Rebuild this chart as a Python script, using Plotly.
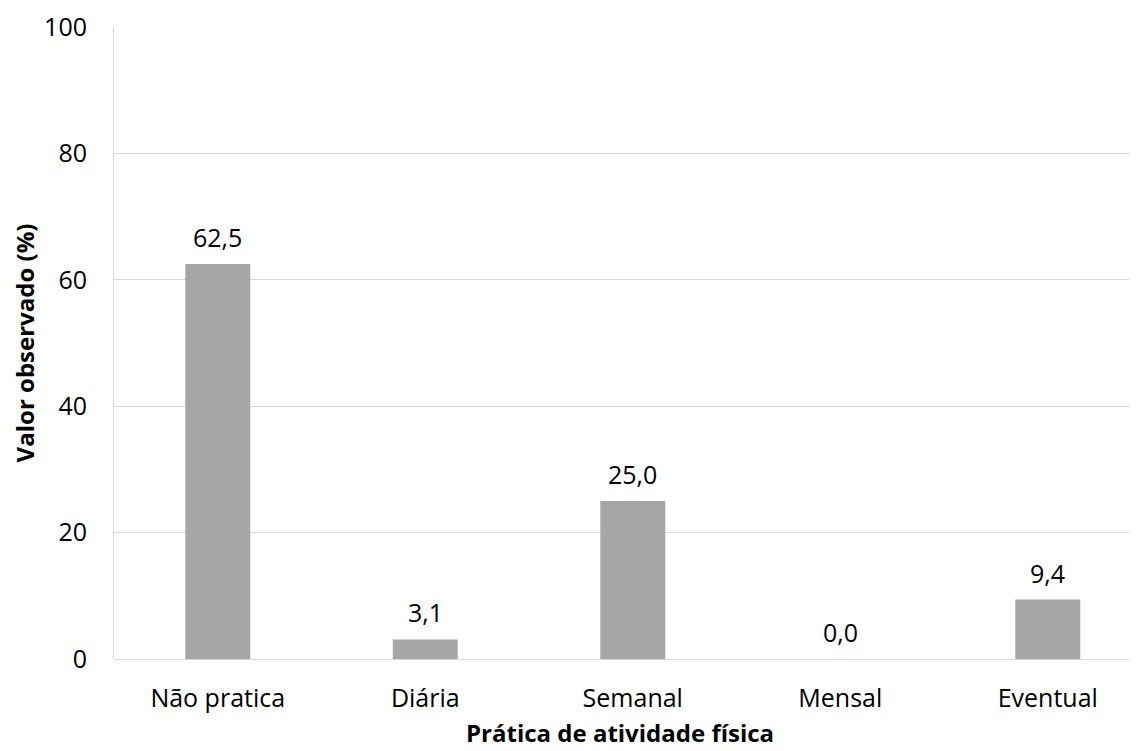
import plotly.graph_objects as go

categories = ["Não pratica", "Diária", "Semanal", "Mensal", "Eventual"]
values = [62.5, 3.1, 25.0, 0.0, 9.4]
labels = ["62,5", "3,1", "25,0", "0,0", "9,4"]
y_ticks = [0, 20, 40, 60, 80, 100]

FONT = "'Open Sans', Lato, sans-serif"
SIZE = 25
TITLE_SIZE = 24
BAR = "rgb(166,166,166)"
GRID = "rgb(217,217,217)"

fig = go.Figure()
fig.add_trace(go.Bar(
    x=categories, y=values,
    marker=dict(color=BAR, line=dict(width=0)),
    width=0.313,
    showlegend=False,
    hoverinfo="skip",
))

# value labels sit a little above each bar top
for cat, val, lab in zip(categories, values, labels):
    fig.add_annotation(
        x=cat, y=val, text=lab, showarrow=False,
        yanchor="bottom", yshift=8,
        font=dict(family=FONT, size=SIZE, color="black"),
    )

# x title as a paper annotation so it can sit lower than the margin allows
fig.add_annotation(
    text="<b>Prática de atividade física</b>",
    xref="paper", yref="paper", x=0.495, y=-0.117,
    xanchor="center", yanchor="middle", showarrow=False,
    font=dict(family=FONT, size=TITLE_SIZE, color="black"),
)

# page body has an 8px margin, so the figure is sized/offset to compensate
fig.update_layout(
    width=1129, height=743,
    margin=dict(l=106, r=0, t=19, b=92),
    paper_bgcolor="white", plot_bgcolor="white",
    font=dict(family=FONT, size=SIZE, color="black"),
    xaxis=dict(
        range=[-0.5, 4.43],
        automargin=False,
        showgrid=False, showline=False, zeroline=False,
        tickfont=dict(size=SIZE),
        ticklabelstandoff=22,
    ),
    yaxis=dict(
        range=[0, 100], tickvals=y_ticks,
        automargin=False,
        showgrid=True, gridcolor=GRID, gridwidth=1,
        showline=True, linecolor=GRID, linewidth=1,
        zeroline=True, zerolinecolor=GRID, zerolinewidth=1,
        tickfont=dict(size=SIZE),
        ticklabelstandoff=21,
        title=dict(text="<b>Valor observado (%)</b>", font=dict(size=TITLE_SIZE), standoff=8),
    ),
)

fig.write_html("out.html")
